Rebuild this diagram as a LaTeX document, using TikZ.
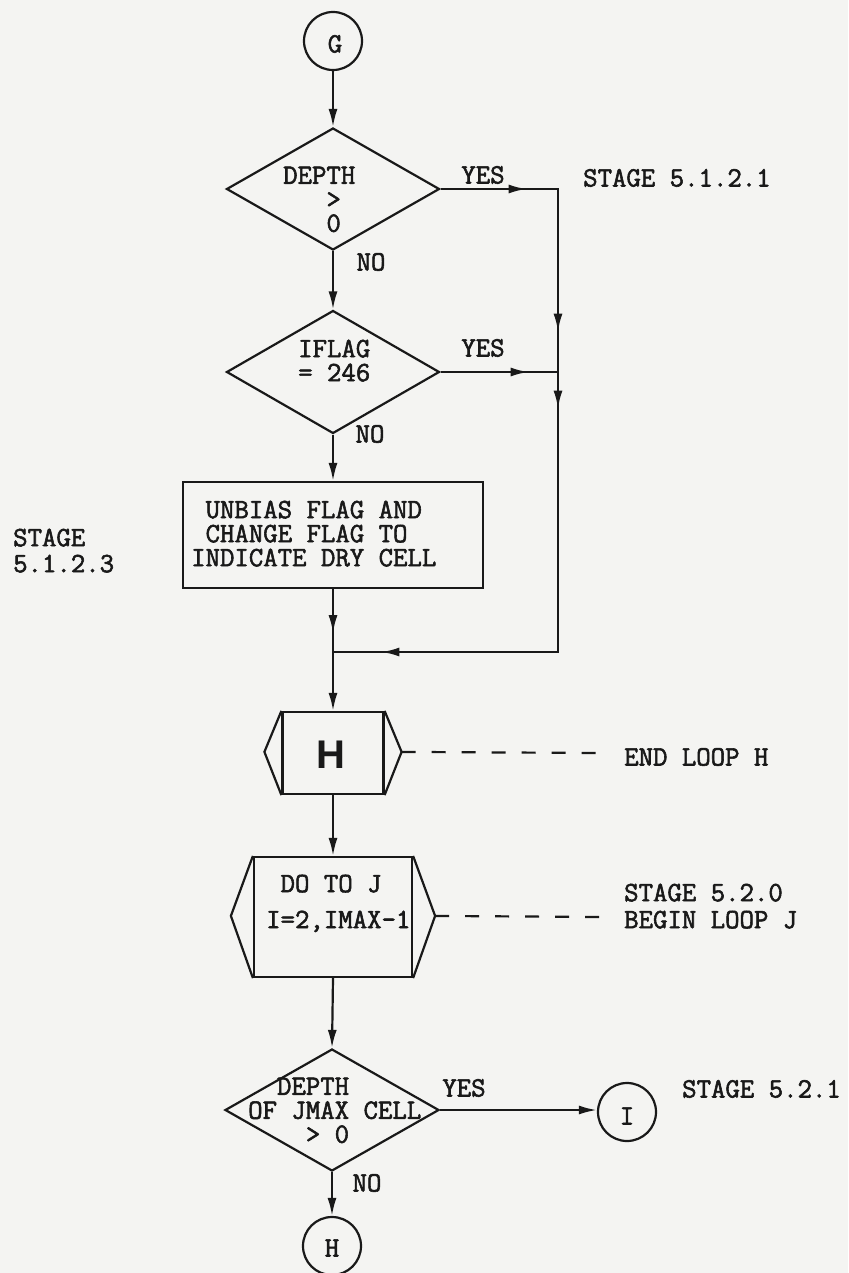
\documentclass[tikz,border=0pt]{standalone}
\usepackage{fontspec}
\newfontfamily\hfont{Liberation Sans}
\newfontfamily\twfont{Latin Modern Mono}[FakeBold=2]
\usetikzlibrary{arrows.meta,shapes.geometric,decorations.markings}
\definecolor{ink}{RGB}{25,25,25}
\definecolor{paper}{RGB}{244,244,242}
\newcommand{\pad}[1]{\phantom{#1}}
\begin{document}
\begin{tikzpicture}[x=1pt,y=-1pt,
  >={Latex[length=18pt,width=9pt]},
  txt/.style={font=\fontsize{28}{24}\selectfont\twfont, text=ink, inner sep=0pt, text height=17pt, text depth=0pt},
  mtxt/.style={font=\fontsize{28}{24}\selectfont\twfont, text=ink, inner sep=0pt, align=left, anchor=north west},
  dia/.style={diamond, draw=ink, line width=2.2pt, minimum width=213pt, minimum height=122pt, inner sep=0pt},
  circ/.style={circle, draw=ink, line width=2.2pt, minimum size=58pt, inner sep=0pt},
  rbox/.style={rectangle, draw=ink, line width=2.2pt, inner sep=0pt},
  conn/.style={draw=ink, line width=2.2pt},
  dashconn/.style={draw=ink, line width=2.2pt, dash pattern=on 14pt off 16pt}
]
\fill[paper] (0,0) rectangle (848,1273);
\useasboundingbox (0,0) rectangle (848,1273);

% shapes
\node[circ] (G) at (333,41) {};
\node[dia] (d1) at (333,189) {};
\node[dia, minimum height=123pt] (d2) at (333,372) {};
\node[rbox, minimum width=300pt, minimum height=106pt] (box) at (333,535) {};
\node[rbox, minimum width=101pt, minimum height=82pt] (hbox) at (333,753) {};
\node[rbox, minimum width=158pt, minimum height=120pt] (dobox) at (333,917) {};
\node[dia, minimum width=214pt] (d3) at (332,1110) {};
\node[circ] (I) at (627,1112) {};
\node[circ] (Hc) at (332,1246) {};

% hexagon caps
\draw[conn] (hbox.north west) -- ++(-17,41) coordinate (hpl) -- (hbox.south west);
\draw[conn] (hbox.north east) -- ++(17,41) coordinate (hpr) -- (hbox.south east);
\draw[conn] (dobox.north west) -- ++(-22,60) coordinate (dpl) -- (dobox.south west);
\draw[conn] (dobox.north east) -- ++(22,60) coordinate (dpr) -- (dobox.south east);

% helper coordinates
\coordinate (r1) at (558,189);
\coordinate (r2) at (558,652);
\coordinate (r3) at (558,372);
\coordinate (j1) at (333,652);
\coordinate (e1) at (600,753);
\coordinate (e2) at (600,917);

% connectors
\draw[conn,->] (G) -- (d1.north);
\draw[conn,->] (d1.south) -- (d2.north);
\draw[conn, postaction={decorate}, decoration={markings,
   mark=at position 86pt with {\arrow{>}},
   mark=at position 260pt with {\arrow{>}},
   mark=at position 337pt with {\arrow{>}},
   mark=at position 757pt with {\arrow{>}}}]
   (d1.east) -- (r1) -- (r2) -- (j1);
\draw[conn, postaction={decorate}, decoration={markings,
   mark=at position 88pt with {\arrow{>}}}]
   (d2.east) -- (r3);
\draw[conn,->] (d2.south) -- (box.north);
\draw[conn,->, postaction={decorate}, decoration={markings,
   mark=at position 44pt with {\arrow{>}}}]
   (box.south) -- (hbox.north);
\draw[conn,->] (hbox.south) -- (dobox.north);
\draw[conn,->] (dobox.south) -- (d3.north);
\draw[conn,->] (d3.east) -- (d3.east -| I.west);
\draw[conn,->] (d3.south) -- (Hc.north);
\draw[dashconn] (hpr) -- (e1);
\draw[dashconn] (dpr) -- (e2);

% texts
\node[txt] (tG) at (335,44) {G};
\node[mtxt] (t1) at (283,166.5) {DEPTH\\\pad{XXX}>\\\pad{XXX}0};
\node[txt] (y1) at (483,175) {YES};
\node[txt] (n1) at (371,262) {NO};
\node[txt, anchor=west] (s1) at (583,178) {STAGE 5.1.2.1};
\node[mtxt] (t2) at (298,339.5) {IFLAG\\= 246};
\node[txt] (y2) at (483,348) {YES};
\node[txt] (n2) at (370,434) {NO};
\node[mtxt] (bt) at (191,500.5) {\pad{X}UNBIAS FLAG AND\\\pad{X}CHANGE FLAG TO\\INDICATE DRY CELL};
\node[mtxt] (s2) at (13,528.5) {STAGE\\[2pt]5.1.2.3};
\node[font=\hfont\bfseries\fontsize{40}{40}\selectfont, text=ink, inner sep=0pt] (hlab) at (331,755) {H};
\node[txt, anchor=west] (el) at (624,757) {END LOOP H};
\node[mtxt] (dot) at (266,874.5) {\pad{X}DO TO J\\[12pt]I=2,IMAX-1};
\node[mtxt] (s3) at (624,883.5) {STAGE 5.2.0\\[3pt]BEGIN LOOP J};
\node[mtxt] (t3) at (248,1077.5) {\pad{XX}DEPTH\\OF JMAX CELL\\\pad{XXXX}> 0};
\node[txt] (y3) at (464,1088) {YES};
\node[txt] (n3) at (367,1183) {NO};
\node[txt] (tI) at (627,1116) {I};
\node[txt, anchor=west] (s4) at (682,1089) {STAGE 5.2.1};
\node[txt] (tH) at (332,1248) {H};
\end{tikzpicture}
\end{document}
